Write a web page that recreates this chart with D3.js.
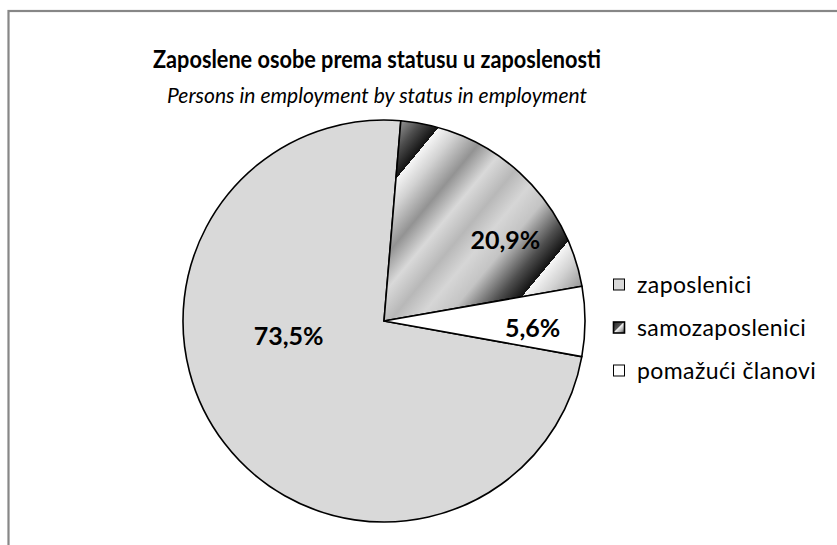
<!DOCTYPE html>
<html>
<head>
<meta charset="utf-8">
<script src="https://cdn.jsdelivr.net/npm/d3@7"></script>
<style>
  body { margin: 0; background: #fff; }
  text { font-family: Lato, "Open Sans", sans-serif; }
</style>
</head>
<body>
<div id="chart"></div>
<script>
// data
const categories = ["zaposlenici", "samozaposlenici", "pomažući članovi"];
const shares = [73.5, 20.9, 5.6];
const labels = ["73,5%", "20,9%", "5,6%"];
const title = "Zaposlene osobe prema statusu u zaposlenosti";
const subtitle = "Persons in employment by status in employment";

const width = 837, height = 545;
const cx = 384, cy = 321, radius = 201;
const startDeg = 100.2;

const svg = d3.select("#chart")
  .append("svg")
    .attr("width", width)
    .attr("height", height);

// gradient fill for samozaposlenici (repeating metallic bands)
const defs = svg.append("defs");
const stops = [
  [0, "#f6f6f6"], [0.1, "#d2d2d2"], [0.24, "#939393"], [0.37, "#d9d9d9"],
  [0.5, "#b8b8b8"], [0.62, "#d6d6d6"], [0.74, "#c4c4c4"], [0.9, "#4e4e4e"],
  [0.995, "#151515"], [1, "#151515"]
];
const g1 = defs.append("linearGradient")
  .attr("id", "metal")
  .attr("gradientUnits", "userSpaceOnUse")
  .attr("spreadMethod", "repeat")
  .attr("x1", -62.8).attr("y1", -52.2)
  .attr("x2", 69.7).attr("y2", 57.9);
g1.selectAll("stop").data(stops).enter().append("stop")
  .attr("offset", d => d[0]).attr("stop-color", d => d[1]);

const g2 = defs.append("linearGradient")
  .attr("id", "metalSmall")
  .attr("x1", 0).attr("y1", 0).attr("x2", 1).attr("y2", 1);
g2.selectAll("stop").data([[0, "#222"], [0.45, "#555"], [0.5, "#f4f4f4"], [0.75, "#aaa"], [1, "#333"]])
  .enter().append("stop")
  .attr("offset", d => d[0]).attr("stop-color", d => d[1]);

const fills = ["#d9d9d9", "url(#metal)", "#ffffff"];
const swatchFills = ["#d9d9d9", "url(#metalSmall)", "#ffffff"];

// frame (only top/left edges visible)
svg.append("rect")
  .attr("x", 8.5).attr("y", 11)
  .attr("width", 900).attr("height", 600)
  .attr("fill", "none")
  .attr("stroke", "#878787")
  .attr("stroke-width", 2.2);

// titles
svg.append("text")
  .attr("x", 377).attr("y", 68)
  .attr("text-anchor", "middle")
  .attr("textLength", 448)
  .attr("lengthAdjust", "spacingAndGlyphs")
  .style("font-size", "25px")
  .style("font-weight", "bold")
  .attr("fill", "#000")
  .text(title);

svg.append("text")
  .attr("x", 377).attr("y", 103)
  .attr("text-anchor", "middle")
  .attr("textLength", 420)
  .attr("lengthAdjust", "spacingAndGlyphs")
  .style("font-size", "21px")
  .style("font-style", "italic")
  .attr("fill", "#000")
  .text(subtitle);

// pie
const rad = Math.PI / 180;
const pie = d3.pie()
  .sort(null)
  .value(d => d)
  .startAngle(startDeg * rad)
  .endAngle(startDeg * rad + 2 * Math.PI);

const arc = d3.arc().innerRadius(0).outerRadius(radius);
const arcs = pie(shares);

const g = svg.append("g")
  .attr("transform", "translate(" + cx + "," + cy + ")");

g.selectAll("path.slice")
  .data(arcs)
  .enter()
  .append("path")
    .attr("class", "slice")
    .attr("d", arc)
    .attr("fill", (d, i) => fills[i])
    .attr("stroke", "#000")
    .attr("stroke-width", 1.6)
    .attr("stroke-linejoin", "round");

// label placement: [angle offset from slice middle (deg), radius fraction]
const labelPlace = [[29, 0.48], [13.4, 0.73], [2.2, 0.74]];
g.selectAll("text.lbl")
  .data(arcs)
  .enter()
  .append("text")
    .attr("class", "lbl")
    .attr("text-anchor", "middle")
    .attr("dominant-baseline", "central")
    .style("font-size", "25px")
    .style("font-weight", "bold")
    .attr("fill", "#000")
    .attr("transform", (d, i) => {
      const a = (d.startAngle + d.endAngle) / 2 + labelPlace[i][0] * rad;
      const r = radius * labelPlace[i][1];
      return "translate(" + (r * Math.sin(a)) + "," + (-r * Math.cos(a)) + ")";
    })
    .text((d, i) => labels[i]);

// legend
const legend = svg.append("g")
  .attr("transform", "translate(613,284)");

const items = legend.selectAll("g.item")
  .data(categories)
  .enter()
  .append("g")
    .attr("class", "item")
    .attr("transform", (d, i) => "translate(0," + (i * 43) + ")");

items.append("rect")
  .attr("x", 0.5).attr("y", -5)
  .attr("width", 11).attr("height", 11)
  .attr("fill", (d, i) => swatchFills[i])
  .attr("stroke", "#000")
  .attr("stroke-width", (d, i) => i === 1 ? 1.6 : 1);

items.append("text")
  .attr("x", 24).attr("y", 0)
  .attr("dominant-baseline", "central")
  .style("font-size", "23px")
  .style("letter-spacing", "0.4px")
  .attr("fill", "#000")
  .text(d => d);
</script>
</body>
</html>
